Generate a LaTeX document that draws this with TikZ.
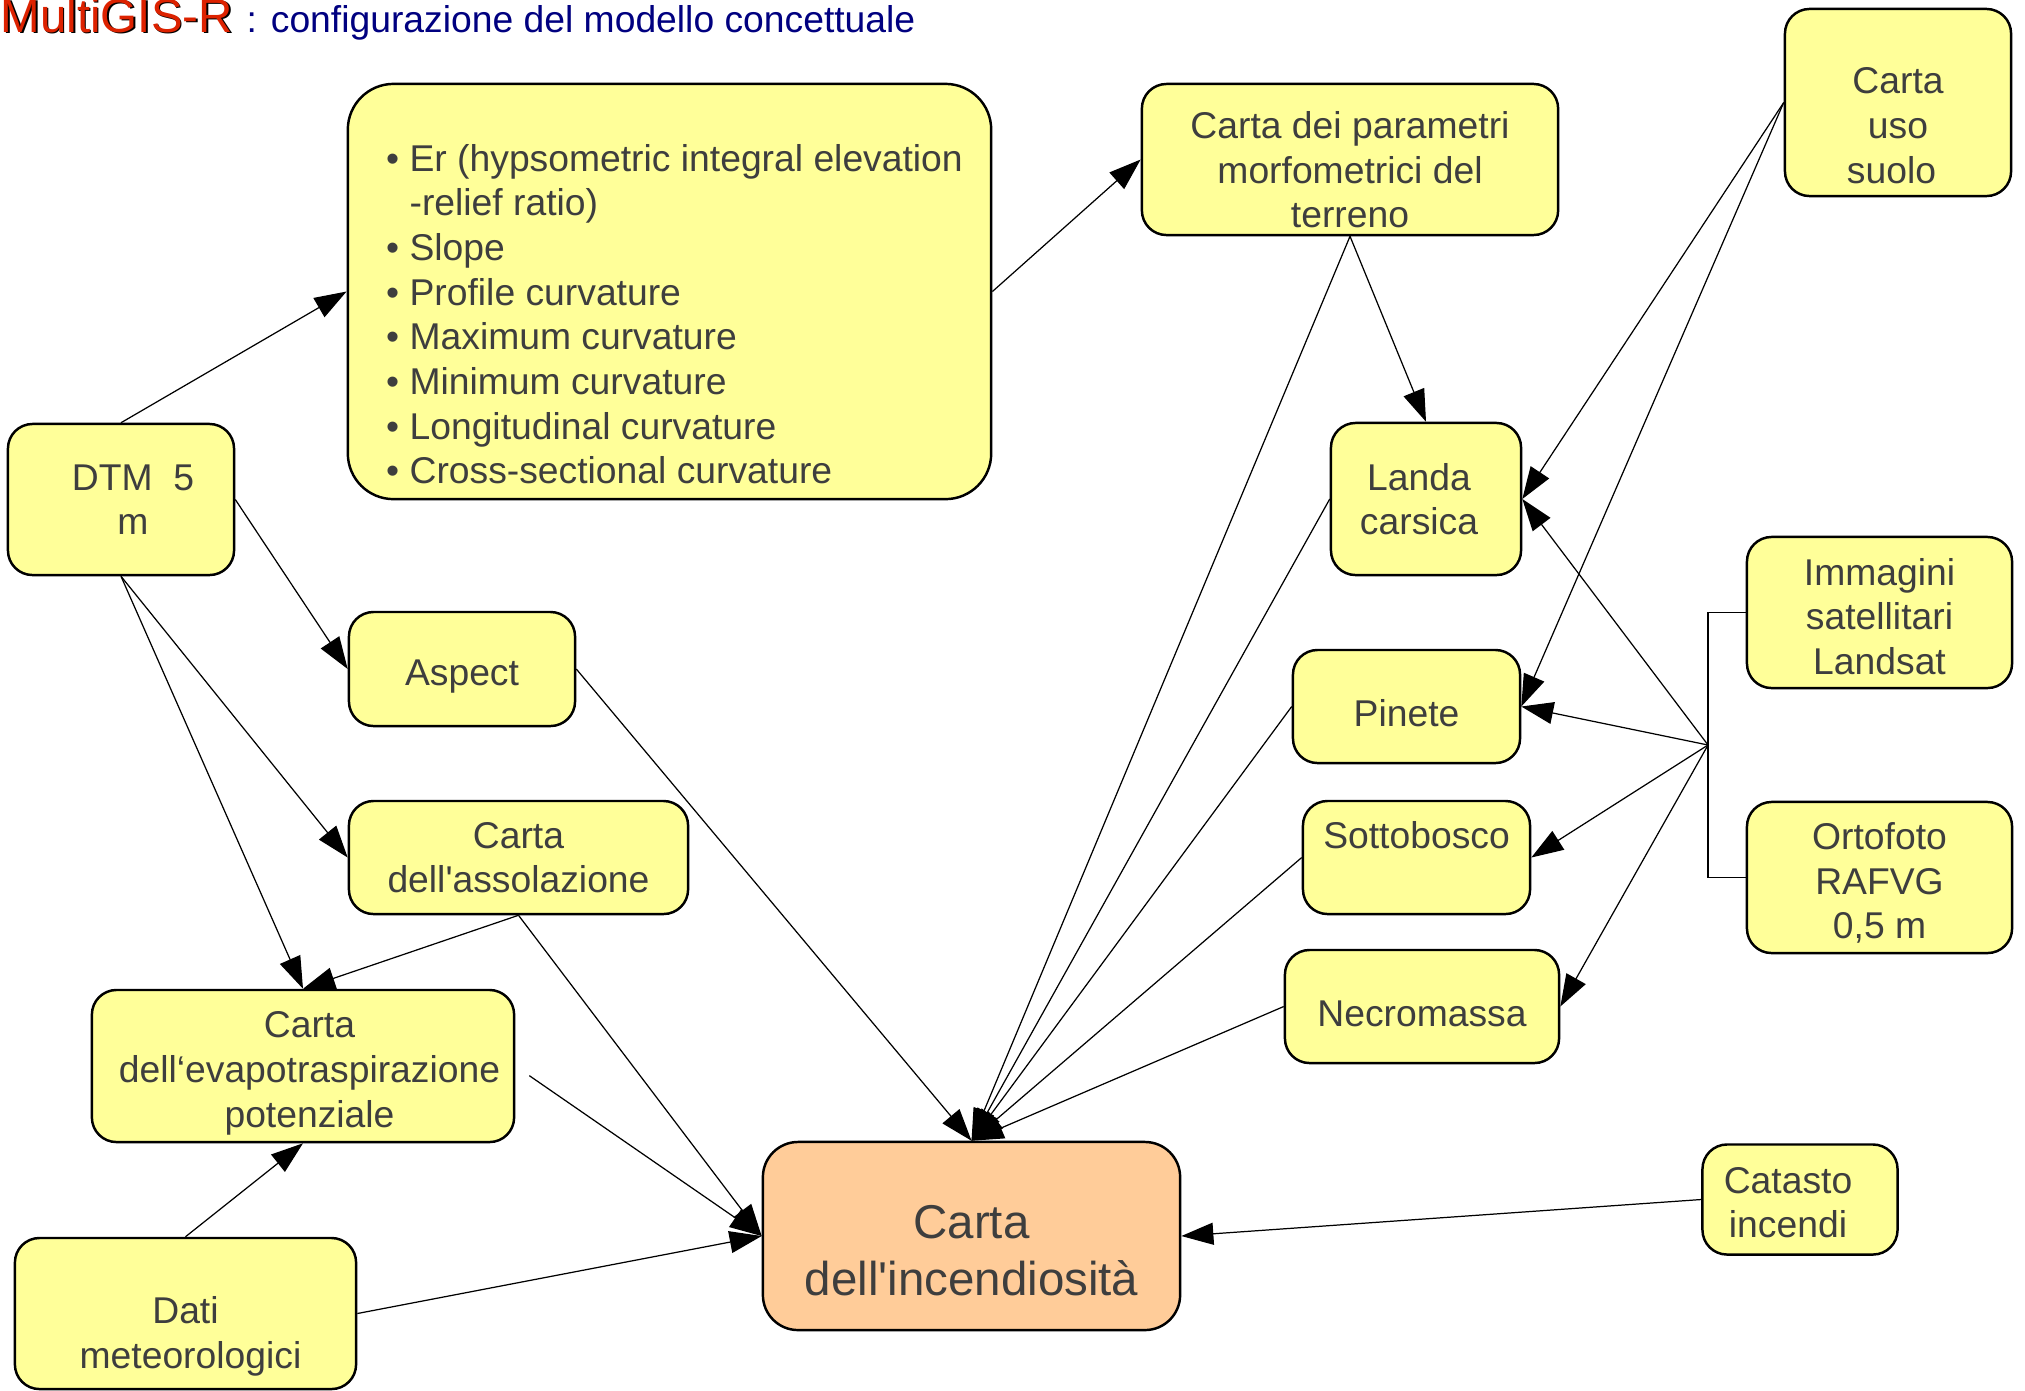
\documentclass[tikz,border=0pt]{standalone}
\usepackage{fontspec}
\setmainfont[Ligatures=TeXOff]{Liberation Sans}
\usetikzlibrary{arrows.meta}
\definecolor{boxyellow}{RGB}{255,255,153}
\definecolor{boxorange}{RGB}{255,204,153}
\definecolor{textgray}{RGB}{62,62,62}
\definecolor{titlered}{RGB}{221,34,0}
\definecolor{titleblue}{RGB}{0,0,128}
\newcommand{\vpad}[1]{\rule{0pt}{#1}}

\begin{document}
\begin{tikzpicture}[x=0.01cm,y=-0.01cm]
\tikzset{
  box/.style={draw,line width=0.7pt,fill=boxyellow,rounded corners=7pt,align=center,inner sep=0pt,text=textgray,font=\fontsize{10.6}{12.7}\selectfont},
  mainbox/.style={box,fill=boxorange,rounded corners=10pt,font=\fontsize{13.5}{16.2}\selectfont},
  titletext/.style={anchor=base west,inner sep=0pt},
  directed/.style={-{Triangle[length=0.32cm,width=0.22cm]},line width=0.35pt},
  undirected/.style={line width=0.35pt}
}
\useasboundingbox (0,0) rectangle (2025,1390);
\node[titletext,text=black,font=\fontsize{13.5}{16}\selectfont] (n_shadow) at (1.5,33.5) {MultiGIS-R};
\node[titletext,text=titlered,font=\fontsize{13.5}{16}\selectfont] (n_title) at (0,32) {MultiGIS-R};
\node[titletext,text=titleblue,font=\fontsize{10.6}{12.7}\selectfont] (n_subtitle) at (246,32) {: configurazione del modello concettuale};
\node[box,minimum width=2.26cm,minimum height=1.51cm] (n_dtm) at (121,499.5) {\hspace*{0.24cm}DTM\ \ 5\\\hspace*{0.24cm}m};
\node[box,rounded corners=13pt,align=left,minimum width=6.43cm,minimum height=4.15cm] (n_params) at (669.5,291.5) {\vpad{7.8pt}\\
\textbullet\ Er (hypsometric integral elevation\kern-0.1cm\mbox{}\\
\phantom{\textbullet\ }-relief ratio)\\
\textbullet\ Slope\\
\textbullet\ Profile curvature\\
\textbullet\ Maximum curvature\\
\textbullet\ Minimum curvature\\
\textbullet\ Longitudinal curvature\\
\textbullet\ Cross-sectional curvature};
\node[box,minimum width=4.16cm,minimum height=1.51cm] (n_morfo) at (1350,159.5) {\vpad{13.6pt}Carta dei parametri\\morfometrici del\\terreno};
\node[box,minimum width=2.26cm,minimum height=1.87cm] (n_uso) at (1898,102.5) {\vpad{7.8pt}\\Carta\hspace*{0.13cm}\\uso\hspace*{0.13cm}\\suolo\hspace*{0.13cm}};
\node[box,minimum width=1.90cm,minimum height=1.52cm] (n_landa) at (1426,499) {Landa\hspace*{0.14cm}\\carsica\hspace*{0.14cm}};
\node[box,minimum width=2.26cm,minimum height=1.14cm] (n_aspect) at (462,669) {\vpad{11.5pt}Aspect};
\node[box,minimum width=2.27cm,minimum height=1.13cm] (n_pinete) at (1406.5,706.5) {\vpad{11.5pt}Pinete};
\node[box,minimum width=2.65cm,minimum height=1.51cm] (n_landsat) at (1879.5,612.5) {\vpad{10pt}Immagini\\satellitari\\Landsat};
\node[box,minimum width=2.65cm,minimum height=1.51cm] (n_ortofoto) at (1879.5,877.5) {\vpad{10.8pt}Ortofoto\\RAFVG\\0,5 m};
\node[box,minimum width=3.39cm,minimum height=1.13cm] (n_assolaz) at (518.5,857.5) {Carta\\dell'assolazione};
\node[box,minimum width=2.27cm,minimum height=1.13cm] (n_sottobosco) at (1416.5,857.5) {Sottobosco\\\mbox{}};
\node[box,minimum width=2.74cm,minimum height=1.13cm] (n_necromassa) at (1422,1006.5) {\vpad{11.5pt}Necromassa};
\node[box,minimum width=4.22cm,minimum height=1.52cm] (n_evapo) at (303,1066) {\vpad{11.5pt}\hspace*{0.13cm}Carta\\\hspace*{0.13cm}dell‘evapotraspirazione\\\hspace*{0.13cm}potenziale};
\node[mainbox,minimum width=4.17cm,minimum height=1.88cm] (n_incendio) at (971.5,1236) {\vpad{18pt}Carta\\dell'incendiosità};
\node[box,minimum width=1.95cm,minimum height=1.10cm] (n_catasto) at (1800,1199.5) {\vpad{9.2pt}Catasto\hspace*{0.24cm}\\incendi\hspace*{0.24cm}};
\node[box,minimum width=3.41cm,minimum height=1.51cm] (n_meteo) at (185.5,1313.5) {\vpad{7.8pt}\\Dati\\\hspace*{0.1cm}meteorologici};
\coordinate (c_join) at (1708,745);
\draw[directed] (n_dtm.north) -- (n_params.west);
\draw[directed] (n_dtm.east) -- (n_aspect.west);
\draw[directed] (n_dtm.south) -- (n_assolaz.west);
\draw[directed] (n_dtm.south) -- (n_evapo.north);
\draw[directed] (n_params.east) -- (n_morfo.west);
\draw[directed] (n_aspect.east) -- (n_incendio.north);
\draw[directed] (n_assolaz.south) -- (n_evapo.north);
\draw[directed] (n_assolaz.south) -- (n_incendio.west);
\draw[directed,shorten <=0.17cm] (n_evapo.east) -- (n_incendio.west);
\draw[directed] (n_meteo.north) -- (n_evapo.south);
\draw[directed] (n_meteo.east) -- (n_incendio.west);
\draw[directed] (n_morfo.south) -- (n_landa.north);
\draw[directed] (n_morfo.south) -- (n_incendio.north);
\draw[directed] (n_landa.west) -- (n_incendio.north);
\draw[directed] (n_pinete.west) -- (n_incendio.north);
\draw[directed] (n_sottobosco.west) -- (n_incendio.north);
\draw[directed] (n_necromassa.west) -- (n_incendio.north);
\draw[directed] (n_uso.west) -- (n_landa.east);
\draw[directed] (n_uso.west) -- (n_pinete.east);
\draw[undirected] (n_landsat.west) -| (c_join) |- (n_ortofoto.west);
\draw[directed] (c_join) -- (n_landa.east);
\draw[directed] (c_join) -- (n_pinete.east);
\draw[directed] (c_join) -- (n_sottobosco.east);
\draw[directed] (c_join) -- (n_necromassa.east);
\draw[directed] (n_catasto.west) -- (n_incendio.east);
\end{tikzpicture}
\end{document}
